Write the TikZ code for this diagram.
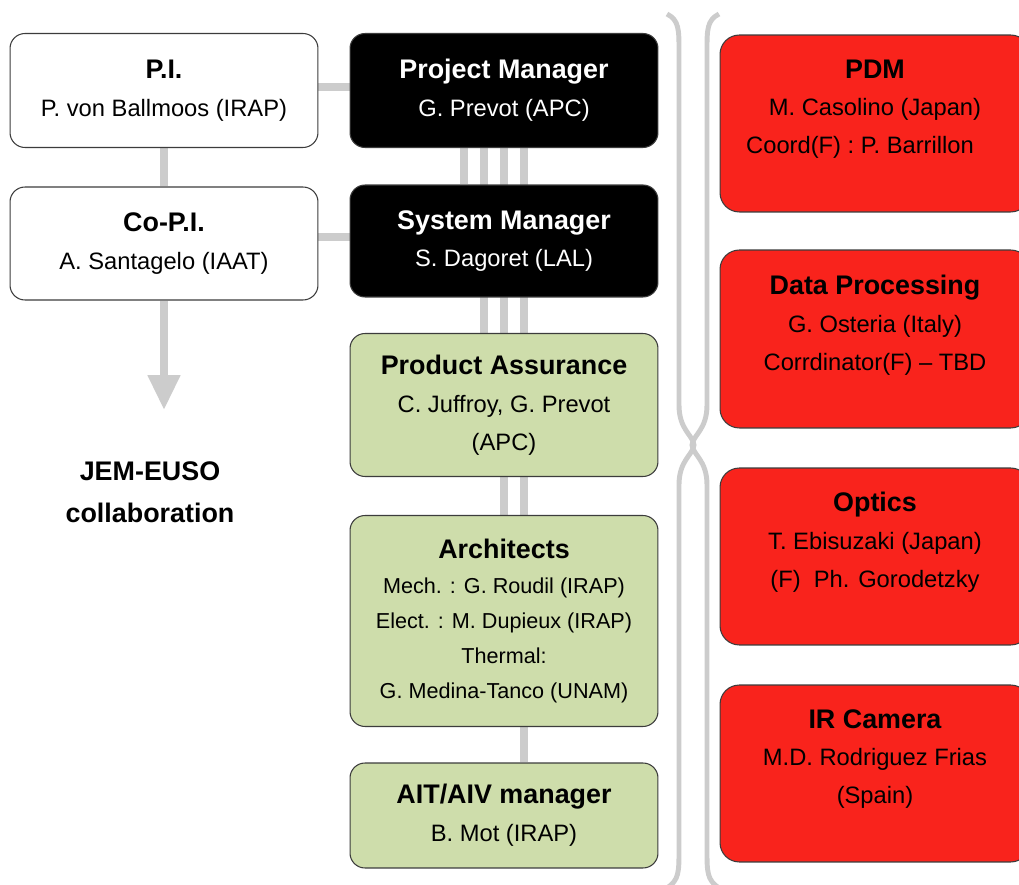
\documentclass[tikz,border=0pt]{standalone}
\usepackage{fontspec}
\setmainfont{Liberation Sans}
\usetikzlibrary{arrows.meta,backgrounds}

\definecolor{linkgray}{RGB}{204,204,204}
\definecolor{boxgreen}{RGB}{206,221,171}
\definecolor{boxred}{RGB}{249,35,28}
\definecolor{edgegray}{RGB}{60,60,60}

\newcommand{\boxtitle}[1]{{\fontsize{15.3}{21.5}\selectfont\bfseries #1}}

\tikzset{
  box/.style={draw=edgegray, line width=0.6pt, rounded corners=8.5pt, minimum width=6.16cm,
    align=center, inner sep=0pt, font=\fontsize{13.5}{21.5}\selectfont},
  whitebox/.style={box, fill=white},
  blackbox/.style={box, fill=black, text=white},
  greenbox/.style={box, fill=boxgreen},
  redbox/.style={box, fill=boxred, rounded corners=11pt, minimum width=6.2cm},
  boxtext/.style={align=center, inner sep=0pt, font=\fontsize{13.5}{21.5}\selectfont},
  link/.style={draw=linkgray, line width=4.5pt},
  bracket/.style={draw=linkgray, line width=2.8pt},
}

\begin{document}
\begin{tikzpicture}[x=0.02cm, y=-0.02cm]
    \useasboundingbox (0,0) rectangle (1019,885);
    \clip (0,0) rectangle (1019,885);

    % left column
    \node[whitebox, minimum height=2.28cm] (pi) at (164,90.5) {\boxtitle{P.I.}\\P. von Ballmoos (IRAP)};
    \node[whitebox, minimum height=2.26cm] (copi) at (164,243.5) {\boxtitle{Co-P.I.}\\A. Santagelo (IAAT)};
    \coordinate (arrowtip) at (164,410);
    \node[align=center, font=\fontsize{15.3}{24}\selectfont\bfseries] (collab) at (150,492) {JEM-EUSO\\collaboration};

    % middle column
    \node[blackbox, minimum height=2.28cm] (pm) at (504,90.5) {\boxtitle{Project Manager}\\G. Prevot (APC)};
    \node[blackbox, minimum height=2.24cm] (sm) at (504,241) {\boxtitle{System Manager}\\S. Dagoret (LAL)};
    \node[greenbox, minimum height=2.86cm] (pa) at (504,405) {\boxtitle{Product Assurance}\\C. Juffroy, G. Prevot\\(APC)};
    \node[greenbox, minimum height=4.22cm, font=\fontsize{12.3}{19.8}\selectfont] (arch) at (504,621)
        {\boxtitle{Architects}\\Mech. : G. Roudil (IRAP)\\Elect. : M. Dupieux (IRAP)\\Thermal:\\G. Medina-Tanco (UNAM)};
    \node[greenbox, minimum height=2.1cm] (ait) at (504,815.5) {\boxtitle{AIT/AIV manager}\\B. Mot (IRAP)};

    % right column
    \node[redbox, minimum height=3.54cm] (pdm) at (875,123.5) {};
    \node[redbox, minimum height=3.56cm] (dp) at (875,339) {};
    \node[redbox, minimum height=3.54cm] (optics) at (875,556.5) {};
    \node[redbox, minimum height=3.54cm] (ir) at (875,773.5) {};
    \node[boxtext] (pdm-txt) at (875,109) {\boxtitle{PDM}\\M. Casolino (Japan)\\Coord(F) : P. Barrillon\kern0.6cm};
    \node[boxtext] (dp-txt) at (875,325) {\boxtitle{Data Processing}\\G. Osteria (Italy)\\Corrdinator(F) -- TBD};
    \node[boxtext] (optics-txt) at (875,542) {\boxtitle{Optics}\\T. Ebisuzaki (Japan)\\(F)\ \ Ph. Gorodetzky};
    \node[boxtext] (ir-txt) at (875,759) {\boxtitle{IR Camera}\\M.D. Rodriguez Frias\\(Spain)};

    \begin{scope}[on background layer]
        \fill[white] (0,0) rectangle (1019,885);
        \draw[link] (pi) -- (copi);
        \draw[link] ([yshift=0.07cm]pi.east) -- ([yshift=0.07cm]pi.east -| pm.west);
        \draw[link] ([yshift=0.13cm]copi.east) -- ([yshift=0.13cm]copi.east -| sm.west);
        \draw[link, -{Triangle[width=0.62cm,length=0.7cm]}] (copi.south) -- (arrowtip);
        \foreach \dx/\target in {-0.8cm/sm, -0.4cm/pa, 0cm/arch, 0.4cm/ait}
            \draw[link] ([xshift=\dx]pm.south) -- ([xshift=\dx]\target.north);
    \end{scope}

    % braces
    \draw[bracket] (667,14) .. controls (679,20) and (679,30) .. (679,50) -- (679,405)
        .. controls (679,430) and (693,435) .. (694,445)
        .. controls (693,455) and (679,460) .. (679,485) -- (679,850)
        .. controls (679,872) and (679,880) .. (667,888);
    \draw[bracket] (719,14) .. controls (707,20) and (707,30) .. (707,50) -- (707,405)
        .. controls (707,430) and (693,435) .. (692,445)
        .. controls (693,455) and (707,460) .. (707,485) -- (707,850)
        .. controls (707,872) and (707,880) .. (719,888);
\end{tikzpicture}
\end{document}
